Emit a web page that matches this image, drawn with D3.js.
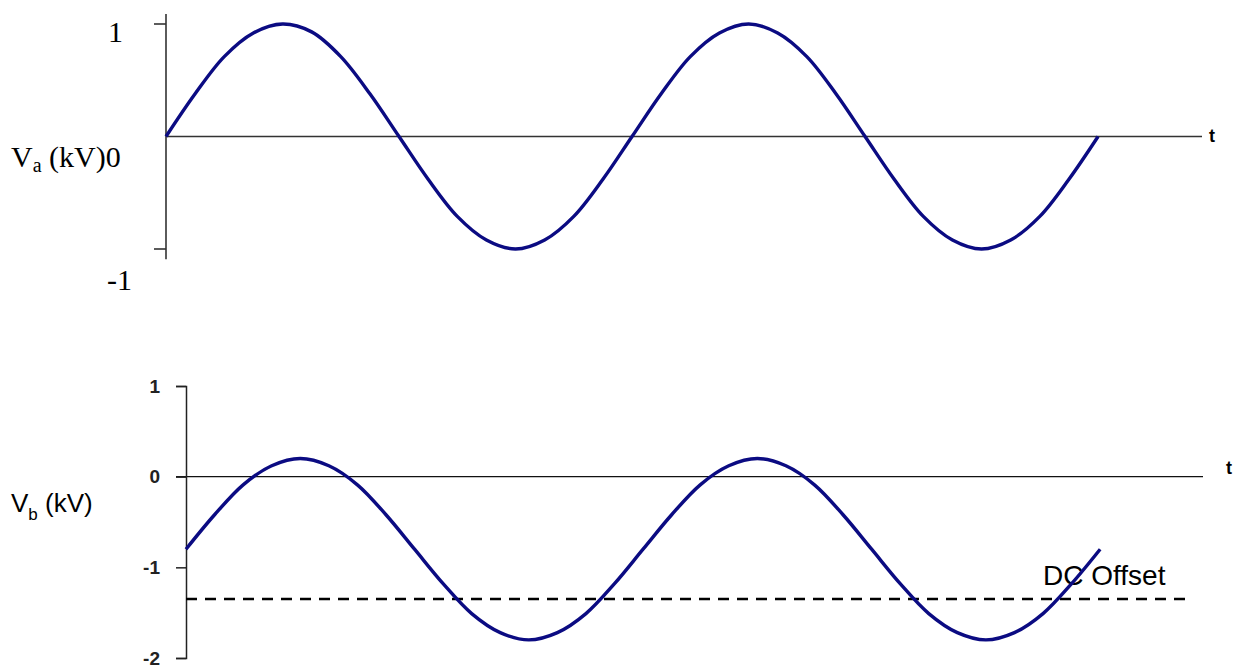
<!DOCTYPE html>
<html>
<head>
<meta charset="utf-8">
<script src="https://cdn.jsdelivr.net/npm/d3@7"></script>
<style>
  html, body { margin: 0; padding: 0; background: #fff; }
  svg { display: block; }
</style>
</head>
<body>
<div id="container"></div>
<script>
const tSamples = d3.range(33).map(i => i / 16)

// Va (kV): upper trace
const vaValues = [0, 0.38, 0.71, 0.92, 1, 0.93, 0.71, 0.38, 0,
    -0.38, -0.71, -0.92, -1, -0.92, -0.71, -0.38, 0,
    0.38, 0.71, 0.92, 1, 0.92, 0.71, 0.38, 0,
    -0.38, -0.71, -0.92, -1, -0.92, -0.71, -0.38, 0]

// Vb (kV): lower trace with dc offset
const vbValues = [-0.8, -0.42, -0.09, 0.12, 0.2, 0.12, -0.09, -0.42, -0.8,
    -1.18, -1.51, -1.72, -1.8, -1.72, -1.51, -1.18, -0.8,
    -0.42, -0.09, 0.12, 0.2, 0.12, -0.09, -0.42, -0.8,
    -1.18, -1.51, -1.72, -1.8, -1.72, -1.51, -1.18, -0.8]

const dcOffset = -1.35
const vaTicks = [1, -1]
const vbTicks = [1, 0, -1, -2]

const width = 1233, height = 668
const waveColor = "#0b0b82"
const serif = "'Liberation Serif', 'Times New Roman', serif"
const sans = "'Liberation Sans', Arial, sans-serif"

const svg = d3.select("#container").append("svg")
    .attr("width", width)
    .attr("height", height)

// ---------- upper chart ----------
const xA = d3.scaleLinear().domain([0, 2.223]).range([166, 1202])
const yA = d3.scaleLinear().domain([-1, 1]).range([249, 24])

const gA = svg.append("g")

gA.append("line")
    .attr("x1", xA(0)).attr("x2", xA(2.223))
    .attr("y1", yA(0)).attr("y2", yA(0))
    .attr("stroke", "#333").attr("stroke-width", 1.4)

gA.append("line")
    .attr("x1", xA(0)).attr("x2", xA(0))
    .attr("y1", yA(1.09)).attr("y2", yA(-1.09))
    .attr("stroke", "#333").attr("stroke-width", 1.6)

gA.selectAll("line.tick")
    .data(vaTicks)
    .join("line")
    .attr("class", "tick")
    .attr("x1", xA(0) - 12).attr("x2", xA(0))
    .attr("y1", d => yA(d)).attr("y2", d => yA(d))
    .attr("stroke", "#333").attr("stroke-width", 1.6)

gA.selectAll("text.tl")
    .data(vaTicks)
    .join("text")
    .attr("class", "tl")
    .attr("x", d => d > 0 ? 123 : 132)
    .attr("y", d => yA(d) + (d > 0 ? 18 : 41))
    .attr("text-anchor", "end")
    .attr("font-family", serif)
    .attr("font-size", 30)
    .text(d => d)

const labA = gA.append("text")
    .attr("x", 11).attr("y", yA(0) + 30)
    .attr("font-family", serif)
    .attr("font-size", 30)
labA.append("tspan").text("V")
labA.append("tspan").attr("font-size", 20).attr("dy", 5).text("a")
labA.append("tspan").attr("dy", -5).text(" (kV)0")

gA.append("text")
    .attr("x", 1209).attr("y", yA(0) + 5)
    .attr("font-family", sans).attr("font-size", 18).attr("font-weight", "bold")
    .text("t")

gA.append("path")
    .datum(tSamples.map((t, i) => [t, vaValues[i]]))
    .attr("fill", "none")
    .attr("stroke", waveColor)
    .attr("stroke-width", 3.4)
    .attr("stroke-linejoin", "round")
    .attr("d", d3.line().x(d => xA(d[0])).y(d => yA(d[1])).curve(d3.curveCatmullRom))

// ---------- lower chart ----------
const xB = d3.scaleLinear().domain([0, 2.225]).range([186, 1203])
const yB = d3.scaleLinear().domain([-2, 1]).range([658, 386])

const gB = svg.append("g")

gB.append("line")
    .attr("x1", xB(0) - 10).attr("x2", xB(2.225))
    .attr("y1", yB(0)).attr("y2", yB(0))
    .attr("stroke", "#111").attr("stroke-width", 1.2)

const axisB = gB.append("g")
    .attr("transform", `translate(${xB(0)},0)`)
    .call(d3.axisLeft(yB).tickValues(vbTicks).tickSize(10).tickFormat(d => d))

axisB.attr("font-size", 19).attr("font-family", sans)
axisB.select(".domain").attr("stroke", "#222").attr("stroke-width", 1.5)
axisB.selectAll(".tick line").attr("stroke", "#222").attr("stroke-width", 1.5)
axisB.selectAll(".tick text")
    .attr("x", -26)
    .attr("font-weight", "bold")
    .attr("fill", "#222")

const labB = gB.append("text")
    .attr("x", 11).attr("y", 512)
    .attr("font-family", sans)
    .attr("font-size", 26)
labB.append("tspan").text("V")
labB.append("tspan").attr("font-size", 17).attr("dy", 8).text("b")
labB.append("tspan").attr("dy", -8).text(" (kV)")

gB.append("text")
    .attr("x", 1226).attr("y", yB(0) - 3)
    .attr("font-family", sans).attr("font-size", 18).attr("font-weight", "bold")
    .text("t")

gB.append("line")
    .attr("x1", xB(0)).attr("x2", 1185)
    .attr("y1", yB(dcOffset)).attr("y2", yB(dcOffset))
    .attr("stroke", "#000").attr("stroke-width", 2.6)
    .attr("stroke-dasharray", "11,8")

gB.append("text")
    .attr("x", 1043).attr("y", 585)
    .attr("font-family", sans)
    .attr("font-size", 28)
    .text("DC Offset")

gB.append("path")
    .datum(tSamples.map((t, i) => [t, vbValues[i]]))
    .attr("fill", "none")
    .attr("stroke", waveColor)
    .attr("stroke-width", 3.4)
    .attr("stroke-linejoin", "round")
    .attr("d", d3.line().x(d => xB(d[0])).y(d => yB(d[1])).curve(d3.curveCatmullRom))
</script>
</body>
</html>
